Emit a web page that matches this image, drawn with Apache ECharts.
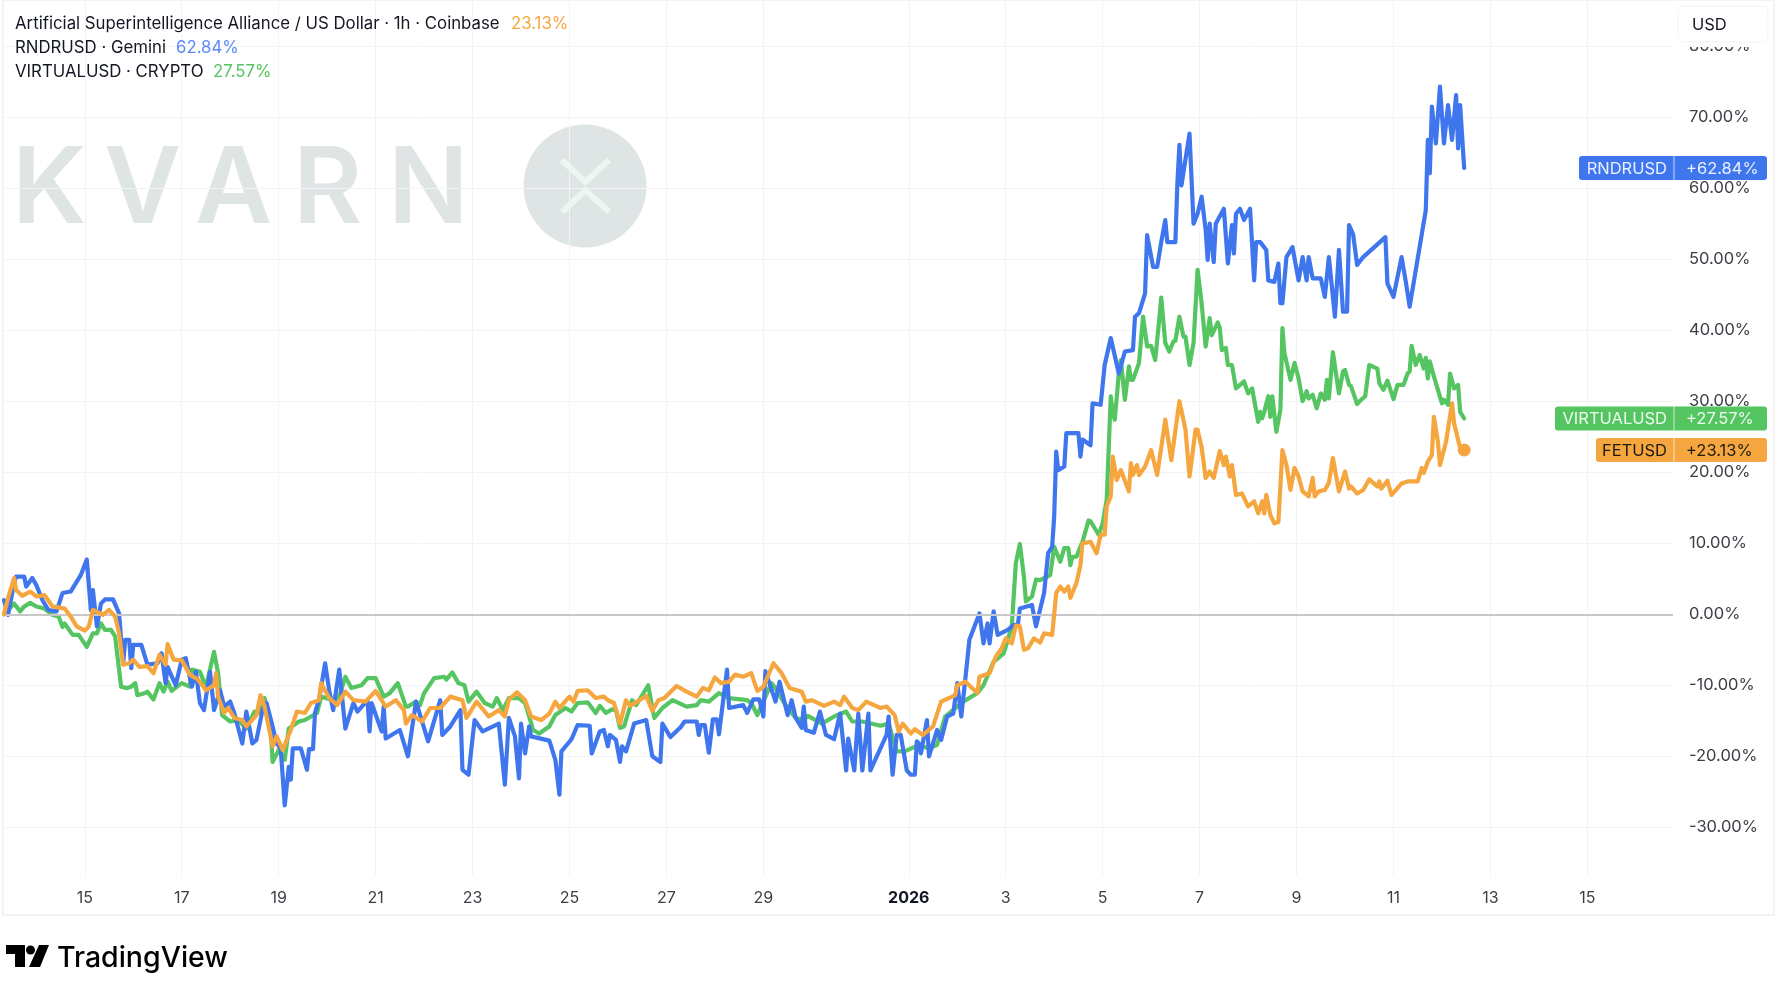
<!DOCTYPE html>
<html>
<head>
<meta charset="utf-8">
<title>FET RNDR VIRTUAL</title>
<script src="https://cdn.jsdelivr.net/npm/echarts@6/dist/echarts.min.js"></script>
<style>
  html, body { margin: 0; padding: 0; background: #fff; }
  #chart { width: 1782px; height: 982px; }
</style>
</head>
<body>
<div id="chart"></div>
<script>
// x = hours since the first 1h bar (Dec 13 08:00), y = % change
var tickHours = [40, 88, 136, 184, 232, 280, 328, 376, 448, 496, 544, 592, 640, 688, 736, 784];
var tickLabels = ['15', '17', '19', '21', '23', '25', '27', '29', '2026', '3', '5', '7', '9', '11', '13', '15'];
var pctTicks = [-30, -20, -10, 0, 10, 20, 30, 40, 50, 60, 70, 80];

var rndrPoints = [
  [0,2],[2,-0.1],[5,4.4],[6,5.3],[10,5.3],[11,3.9],[14,5.1],[16,4.1],[19,2],[22,0.6],[26,0.4],[29,3],[33,3.2],[38,5.5],[41,7.7],[43,0.6],[44,3.4],[46,-1.7],[48,1.5],[50,2.1],
  [54,2.1],[57,0.1],[58,-3.6],[59,-6.9],[60,-3.6],[62,-3.6],[63,-7.6],[64,-4.3],[68,-4.3],[71,-7.1],[76,-6.9],[78,-5.5],[80,-9.7],[81,-7.4],[85,-10],[88,-6.4],[90,-6.2],[93,-10.2],[95,-8.1],[97,-12.5],
  [99,-13.5],[102,-8.1],[104,-13.5],[107,-10.7],[109,-13],[112,-12.3],[114,-13.9],[118,-18.2],[120,-13.7],[123,-18.2],[125,-17.7],[128,-13.5],[130,-12.5],[133,-15.8],[135,-18.2],[137,-18.9],[139,-26.9],[141,-21.5],[142,-23.3],[143,-18.9],
  [147,-18.9],[150,-21.9],[151,-19],[153,-19],[154,-13.9],[156,-12],[159,-6.9],[161,-10.7],[163,-13.5],[166,-7.8],[169,-16.1],[173,-12.5],[175,-13.7],[180,-12.1],[181,-16.5],[182,-12.5],[187,-16.5],[188,-13],[189,-17.5],[196,-16.3],
  [200,-20],[204,-12.3],[210,-17.9],[216,-12.1],[217,-17],[221,-15.8],[226,-13.5],[227,-21.9],[230,-22.6],[233,-14.9],[237,-16.5],[245,-15.4],[248,-24],[250,-14.6],[253,-17.2],[255,-23.1],[256,-15.4],[258,-19.6],[260,-15.8],[261,-17.2],
  [270,-17.8],[273,-20.5],[275,-25.4],[276,-19.3],[281,-17.6],[284,-15.6],[290,-15.7],[291,-19.6],[295,-16.5],[297,-16.3],[299,-18.6],[300,-17],[303,-17.7],[305,-20.8],[306,-18.6],[308,-19.3],[312,-15.4],[318,-14.9],[321,-20],[325,-20.8],
  [326,-15.4],[330,-17.3],[335,-15.9],[337,-15.1],[343,-15.1],[344,-17],[345,-15.6],[347,-15.6],[349,-19.5],[351,-14.8],[353,-14.8],[354,-16.9],[358,-7.8],[359,-13.2],[366,-12.8],[368,-13.9],[371,-12],[374,-12],[376,-14.4],[377,-8],
  [379,-9.7],[382,-12.3],[384,-9.5],[388,-14.2],[390,-12.1],[392,-14.6],[395,-16],[396,-13],[397,-16.3],[401,-16.7],[404,-13.7],[407,-17],[411,-17.6],[414,-14],[417,-22],[418,-17.5],[421,-22],[423,-14],[425,-22],[428,-14],
  [429,-22],[437,-17],[438,-14.4],[440,-22.6],[442,-17],[444,-17],[447,-22],[449,-22.6],[451,-22.6],[452,-17.9],[453,-18.2],[454,-19.6],[457,-14.9],[458,-20],[462,-16.3],[464,-17.7],[467,-14.4],[470,-14],[472,-9.7],[474,-14.4],
  [477,-6.4],[478,-3.6],[483,0.1],[485,-4.1],[487,-1.3],[488,-4.1],[490,0.4],[492,-2.9],[497,-2.2],[500,-1.5],[502,-1.5],[503,0.8],[509,1.3],[511,-1.7],[515,3],[517,8.6],[519,9.5],[520,13.8],[521,22.9],[522,20.3],
  [525,20.8],[526,25.5],[532,25.5],[533,22.2],[534,24.6],[538,23.8],[539,29.7],[543,29.5],[545,35.1],[548,38.9],[552,33.9],[555,37],[559,37.2],[560,41.9],[562,42.4],[565,45.2],[566,53.4],[569,48.9],[571,48.9],[573,52.4],
  [575,55.5],[576,52.4],[580,52.4],[581,60.7],[582,66.1],[583,60.4],[587,67.7],[589,55],[591,56.4],[593,58.8],[595,54.1],[596,49.9],[597,55],[599,49.6],[600,55],[604,57.1],[606,49.4],[608,54.8],[609,50.8],[610,56.4],
  [612,57.1],[614,55.5],[617,57.1],[619,47],[620,52.4],[622,52.4],[625,51.3],[626,47],[629,46.8],[631,49.4],[632,43.8],[633,43.8],[635,50.3],[638,51.7],[641,47],[643,50.3],[645,47],[646,50.3],[648,47.3],[652,47.3],
  [654,44.7],[656,50.3],[659,41.9],[661,51.3],[663,42.6],[665,42.6],[666,54.8],[668,53.5],[670,49.2],[673,50.3],[684,53.1],[685,46.6],[688,44.7],[692,50.3],[694,47],[696,43.3],[704,56.9],[705,66.8],[706,62.1],[707,71.5],
  [709,66.3],[711,74.3],[713,66.3],[715,71.7],[717,66.8],[719,73.1],[720,65.6],[721,71.7],[723,62.84]
];

var virtualPoints = [
  [0,0],[5,1.5],[8,0.4],[10,1.1],[13,1.6],[16,1.1],[20,0.8],[24,-0.1],[27,-0.3],[29,-1.8],[30,-1.3],[34,-2.9],[37,-2.9],[41,-4.6],[44,-2.7],[46,-2.7],[48,-1.3],[50,-2.2],[53,-2.2],[55,-3.1],
  [58,-10.2],[61,-10.4],[63,-10.2],[65,-9.7],[66,-11.4],[70,-11.1],[71,-10.9],[74,-12],[77,-9.7],[79,-10.9],[81,-9.5],[83,-10.8],[88,-9.7],[92,-10.2],[93,-7.8],[97,-8.1],[100,-10.2],[104,-5.3],[106,-8.3],[108,-14.2],
  [112,-15.1],[116,-14.9],[120,-16.1],[124,-13.7],[127,-13.9],[129,-11.8],[132,-15.8],[133,-20.8],[136,-19.1],[139,-20.5],[141,-16.1],[146,-15.1],[149,-14.9],[155,-13.9],[157,-11.6],[163,-12.1],[166,-11.6],[169,-8.8],[172,-10.4],[177,-10],
  [180,-9],[184,-9],[188,-11.6],[191,-11.1],[195,-9.7],[199,-13],[200,-13],[204,-12.3],[206,-12.8],[208,-11.1],[213,-9],[218,-8.8],[219,-9.2],[222,-8.2],[225,-9.7],[228,-10],[230,-12.3],[234,-10.9],[238,-12.5],[242,-13],
  [244,-11.8],[247,-13.5],[250,-11.8],[255,-11.8],[258,-12.5],[262,-16.3],[265,-16.8],[270,-15.8],[273,-14.2],[278,-13.2],[281,-13.7],[284,-12.5],[289,-12.4],[293,-13.9],[295,-12.9],[298,-13.9],[301,-13.4],[303,-13.5],[305,-16],[307,-15.8],
  [311,-12.1],[313,-12.8],[319,-10],[321,-13.2],[322,-14.6],[326,-13.2],[331,-12.1],[338,-13],[343,-12.8],[345,-12.1],[349,-12.3],[354,-11.1],[359,-11.8],[368,-12.1],[370,-12.5],[373,-14.2],[380,-9.7],[382,-10.4],[387,-12.8],[392,-14.6],
  [396,-14.9],[398,-14.3],[405,-15.4],[411,-14.4],[417,-13.7],[420,-15.1],[425,-15.1],[434,-15.7],[438,-15.4],[442,-19.3],[446,-19.3],[453,-18.4],[458,-18.9],[462,-18.4],[466,-14.4],[475,-12.3],[482,-11.1],[485,-10],[490,-6.7],[495,-5.5],
  [499,-1.7],[501,7.2],[503,9.9],[505,5.3],[506,1.8],[509,2.5],[511,4.9],[513,4.8],[518,5.5],[520,9.5],[523,7.4],[525,9.3],[527,9.3],[528,6.9],[529,8.1],[531,8.1],[534,10.2],[537,13.2],[538,13.1],[542,11.2],
  [544,12.8],[546,16.1],[548,30.7],[549,28.3],[550,27.4],[552,33.9],[553,35.8],[555,30.2],[557,34.9],[558,33],[559,33],[562,35.4],[564,41.9],[566,37.7],[568,37.8],[570,35.8],[572,41.5],[573,44.6],[575,38.2],[577,37],
  [579,38.4],[580,38.5],[582,41.9],[584,39.1],[585,39.1],[587,35.1],[589,38.2],[591,48.5],[593,43.8],[595,37.7],[597,41.7],[598,39.3],[601,41.1],[602,40.3],[603,37.2],[605,37.5],[606,35.1],[608,35.1],[610,31.8],[614,32.8],
  [616,31.1],[618,31.8],[621,27.1],[622,28.5],[623,27.6],[624,28.5],[626,30.7],[627,27.8],[628,30.7],[630,25.7],[632,28.8],[633,40.3],[634,36.8],[637,33],[639,35.4],[641,33.2],[643,30],[645,31.4],[646,30.4],[648,30.9],
  [650,29],[652,31.1],[654,30.2],[655,33],[656,30.4],[658,36.9],[661,31.1],[663,34.2],[664,34.4],[666,32.3],[667,32.1],[670,29.6],[672,30.2],[674,30.7],[676,35.1],[680,34.6],[681,32.5],[683,31.6],[685,32.9],[688,30.3],
  [690,32.3],[693,32.3],[695,33.9],[696,34.2],[697,37.8],[699,35.1],[701,36.5],[703,34.6],[704,36.1],[705,33.2],[706,35.6],[708,33.5],[712,29.7],[713,30.2],[715,29.5],[716,33.9],[718,31.8],[720,32.3],[721,28.5],[723,27.57]
];

var fetPoints = [
  [0,0],[2,2.3],[5,5.1],[6,3.4],[9,2.6],[13,3.2],[16,2.5],[20,2.7],[24,1.1],[30,0.8],[33,-0.3],[36,-1.7],[40,-2.3],[42,-1.7],[44,0.6],[49,-0.1],[52,0.6],[55,-0.3],[57,-2.7],[59,-7.1],
  [62,-6.9],[64,-6.4],[67,-7.4],[71,-7.3],[74,-8.3],[77,-5.7],[80,-7.1],[81,-4.2],[84,-6.4],[88,-6.5],[92,-8.5],[96,-9.2],[100,-10.7],[104,-10],[105,-8.3],[106,-11.6],[109,-13.9],[111,-13.2],[114,-14.6],[118,-14.9],
  [120,-15.8],[125,-14.2],[127,-11.4],[129,-13],[133,-18.6],[135,-17.2],[138,-19.1],[142,-16.3],[145,-13.7],[149,-13.9],[152,-12.5],[156,-12.1],[157,-9.7],[161,-11.8],[165,-12.8],[169,-10.9],[173,-12.1],[179,-12.3],[184,-10.8],[189,-13],
  [194,-12.1],[198,-13.5],[199,-15.4],[202,-14.2],[207,-15.1],[211,-13.2],[216,-13.2],[221,-11.6],[227,-12.1],[229,-14.6],[234,-12.3],[240,-14.4],[245,-13.5],[248,-14.4],[250,-12],[254,-11],[258,-12.1],[261,-14.4],[266,-14.9],[270,-14],
  [273,-12.3],[275,-13.2],[280,-11.6],[282,-12.3],[284,-10.8],[289,-10.7],[293,-11.8],[297,-11.6],[299,-12.1],[302,-12.5],[305,-15.4],[308,-12.1],[310,-12.9],[318,-11.5],[321,-13.6],[324,-12.1],[327,-11.8],[333,-10.1],[338,-10.9],[343,-11.6],
  [346,-10.4],[349,-10.7],[352,-8.9],[355,-9.7],[359,-9.5],[362,-8.5],[366,-8.8],[370,-8.3],[373,-10.8],[376,-10.2],[381,-6.9],[385,-8.3],[389,-10.4],[395,-10.9],[397,-12.3],[400,-12.1],[406,-12.9],[411,-12.3],[414,-12.8],[416,-11.6],
  [420,-13.2],[423,-13.5],[427,-12.3],[434,-13.2],[437,-13],[441,-14.2],[443,-16.5],[445,-15.4],[449,-16.8],[451,-16.2],[455,-17],[460,-15.8],[464,-12.3],[468,-11.8],[471,-11.4],[472,-10],[476,-9.5],[482,-11.1],[483,-8.8],[488,-8.3],
  [491,-6],[494,-4.8],[496,-3.4],[499,-4.1],[501,-1.6],[503,-1.7],[505,-5],[507,-4.8],[510,-3.4],[513,-4],[515,-2.7],[519,-2.9],[521,3],[523,3.9],[525,3.2],[527,3.9],[528,2.3],[531,4.4],[533,6.9],[534,10],
  [538,10.2],[541,8.6],[543,11.2],[545,11.2],[546,15.2],[548,16.6],[549,22.2],[551,18.9],[553,20.3],[557,17.3],[558,21.3],[559,19.6],[561,21],[562,19.6],[565,20.8],[568,23.1],[571,19.6],[575,27.4],[578,21.7],[582,30],
  [585,26],[587,19.4],[590,26],[591,26],[593,23.5],[595,19.2],[597,20.1],[599,19.2],[602,23],[604,21],[605,22.2],[607,19.4],[608,21],[610,16.8],[613,17],[616,15.2],[619,15.9],[621,14.2],[623,15.9],[624,14.2],
  [625,16.8],[627,14],[629,12.8],[631,13],[633,23.1],[635,21],[637,17.5],[639,20.6],[641,19.4],[643,17.3],[646,16.6],[648,19.2],[649,16.6],[651,17.3],[654,17.5],[656,18.5],[658,22],[661,17.3],[664,20.1],[666,17.7],
  [667,18],[670,17],[673,17.5],[676,19],[680,18],[681,18.7],[682,17.7],[685,18.8],[687,16.8],[692,18.4],[695,18.7],[700,18.7],[702,20.6],[703,19.9],[705,21.5],[707,22.4],[708,27.8],[710,24.3],[711,21],[714,24.3],
  [717,29.7],[718,26.9],[721,23.4],[723,23.13]
];

var blue = '#3f76ee';
var green = '#55c562';
var orange = '#f6a63f';
var ink = '#131722';
var axisInk = '#3c3f46';
var rule = '#f3f3f5';
var markTone = '#dfe5e4';
var uiFont = 'Inter, "Noto Sans", sans-serif';

var lastRndr = rndrPoints[rndrPoints.length - 1];
var lastVirtual = virtualPoints[virtualPoints.length - 1];
var lastFet = fetPoints[fetPoints.length - 1];

var chart = echarts.init(document.getElementById('chart'), null, { renderer: 'canvas' });

function lineSeries(name, points, color, z) {
  return {
    name: name,
    type: 'line',
    data: points,
    z: z,
    symbol: 'none',
    animation: false,
    lineStyle: { color: color, width: 4.2, join: 'round', cap: 'round' },
    itemStyle: { color: color }
  };
}

var rndrSeries = lineSeries('RNDRUSD', rndrPoints, blue, 4);
var virtualSeries = lineSeries('VIRTUALUSD', virtualPoints, green, 3);
var fetSeries = lineSeries('FETUSD', fetPoints, orange, 5);

// zero baseline and the dot on the last FET bar
fetSeries.markLine = {
  silent: true,
  symbol: 'none',
  animation: false,
  label: { show: false },
  lineStyle: { color: '#c8c8ca', width: 2, type: 'solid' },
  data: [{ yAxis: 0 }]
};
fetSeries.markPoint = {
  silent: true,
  animation: false,
  symbol: 'circle',
  symbolSize: 13,
  label: { show: false },
  itemStyle: { color: orange },
  data: [{ coord: lastFet }]
};

function legendLine(y, label, value, color, valueX) {
  return [
    { type: 'text', z: 20, style: { x: 15, y: y, text: label, fill: ink, font: '16.8px ' + uiFont, textVerticalAlign: 'middle' } },
    { type: 'text', z: 20, style: { x: valueX, y: y, text: value, fill: color, font: '16.8px ' + uiFont, textVerticalAlign: 'middle' } }
  ];
}

function watermark() {
  var letters = ['K', 'V', 'A', 'R', 'N'];
  var lettersX = [12, 104, 195, 293, 388];
  var items = letters.map(function(c, i) {
    return { type: 'text', z: -1, style: { x: lettersX[i], y: 191, text: c, fill: markTone, font: '600 106px Inter, sans-serif', textVerticalAlign: 'middle' } };
  });
  items.push({ type: 'circle', z: -1, shape: { cx: 585, cy: 186, r: 61.5 }, style: { fill: markTone } });
  items.push({ type: 'polyline', z: -1, shape: { points: [[562, 160], [585.5, 182], [609, 160]] }, style: { fill: 'none', stroke: '#edf7f1', lineWidth: 6 } });
  items.push({ type: 'polyline', z: -1, shape: { points: [[562, 212], [585.5, 190], [609, 212]] }, style: { fill: 'none', stroke: '#edf7f1', lineWidth: 6 } });
  return items;
}

function logo() {
  return [
    { type: 'polygon', z: 20, shape: { points: [[6, 945], [25, 945], [25, 967], [15, 967], [15, 954], [6, 954]] }, style: { fill: '#000' } },
    { type: 'circle', z: 20, shape: { cx: 30.5, cy: 950, r: 4.5 }, style: { fill: '#000' } },
    { type: 'polygon', z: 20, shape: { points: [[39, 945], [49, 945], [40, 967], [29, 967]] }, style: { fill: '#000' } },
    { type: 'text', z: 20, style: { x: 57, y: 958, text: 'TradingView', fill: '#000', font: '500 28.5px Inter, sans-serif', textVerticalAlign: 'middle' } }
  ];
}

function frame() {
  return [
    { type: 'rect', z: -2, shape: { x: 3, y: 0, width: 1771, height: 915 }, style: { fill: 'none', stroke: '#f0f0f3', lineWidth: 1.5 } },
    // the USD button hides the upper part of the 80% label
    { type: 'rect', z: 19, shape: { x: 1680, y: 30, width: 86, height: 17 }, style: { fill: '#fff' } },
    { type: 'rect', z: 20, shape: { x: 1678, y: 6, width: 90, height: 36, r: 6 }, style: { fill: '#fff', stroke: '#f3f3f5', lineWidth: 1 } },
    { type: 'text', z: 21, style: { x: 1692, y: 25, text: 'USD', fill: ink, font: '16.5px ' + uiFont, textVerticalAlign: 'middle' } }
  ];
}

chart.setOption({
  animation: false,
  backgroundColor: '#ffffff',
  grid: { left: 3, right: 109, top: 0, bottom: 106, containLabel: false },
  xAxis: {
    type: 'value',
    min: -0.5,
    max: 826.4,
    axisLine: { show: false },
    axisTick: { show: false, customValues: tickHours },
    splitLine: { show: true, lineStyle: { color: rule, width: 1 } },
    axisLabel: {
      customValues: tickHours,
      margin: 14,
      color: axisInk,
      fontSize: 16,
      fontFamily: uiFont,
      formatter: function(v) {
        var label = tickLabels[tickHours.indexOf(v)];
        return label === '2026' ? '{year|2026}' : label;
      },
      rich: { year: { fontWeight: 700, fontSize: 16, fontFamily: uiFont, color: ink } }
    }
  },
  yAxis: {
    type: 'value',
    position: 'right',
    min: -36.86,
    max: 86.5,
    axisLine: { show: false },
    axisTick: { show: false, customValues: pctTicks },
    splitLine: { show: true, lineStyle: { color: rule, width: 1 } },
    axisLabel: {
      customValues: pctTicks,
      margin: 16,
      color: axisInk,
      fontSize: 16.5,
      fontFamily: uiFont,
      formatter: function(v) { return v.toFixed(2) + '%'; }
    }
  },
  series: [virtualSeries, rndrSeries, fetSeries]
});

// price tags sit on the last value of each series, so read y back through the axis
function priceTag(name, value, color, textColor, left) {
  var y = chart.convertToPixel({ yAxisIndex: 0 }, value);
  var right = 1767, split = 1674;
  return [
    { type: 'rect', z: 22, shape: { x: left, y: y - 12, width: right - left, height: 24, r: 3 }, style: { fill: color } },
    { type: 'line', z: 23, shape: { x1: split, y1: y - 12, x2: split, y2: y + 12 }, style: { stroke: 'rgba(255,255,255,0.7)', lineWidth: 1 } },
    { type: 'text', z: 24, style: { x: split - 7, y: y + 1, text: name, fill: textColor, font: '16.5px ' + uiFont, textAlign: 'right', textVerticalAlign: 'middle' } },
    { type: 'text', z: 24, style: { x: split + 12, y: y + 1, text: '+' + value.toFixed(2) + '%', fill: textColor, font: '16.5px ' + uiFont, textVerticalAlign: 'middle' } }
  ];
}

chart.setOption({
  graphic: [].concat(
    frame(),
    watermark(),
    logo(),
    legendLine(24, 'Artificial Superintelligence Alliance / US Dollar \u00b7 1h \u00b7 Coinbase', '23.13%', orange, 511),
    legendLine(48, 'RNDRUSD \u00b7 Gemini', '62.84%', '#5b8af6', 176),
    legendLine(72, 'VIRTUALUSD \u00b7 CRYPTO', '27.57%', green, 213),
    priceTag('RNDRUSD', lastRndr[1], blue, '#eaf0fe', 1579),
    priceTag('VIRTUALUSD', lastVirtual[1], green, '#eefaf0', 1555),
    priceTag('FETUSD', lastFet[1], orange, '#1d1a12', 1596)
  )
});

window.addEventListener('resize', function() { chart.resize(); });
</script>
</body>
</html>
